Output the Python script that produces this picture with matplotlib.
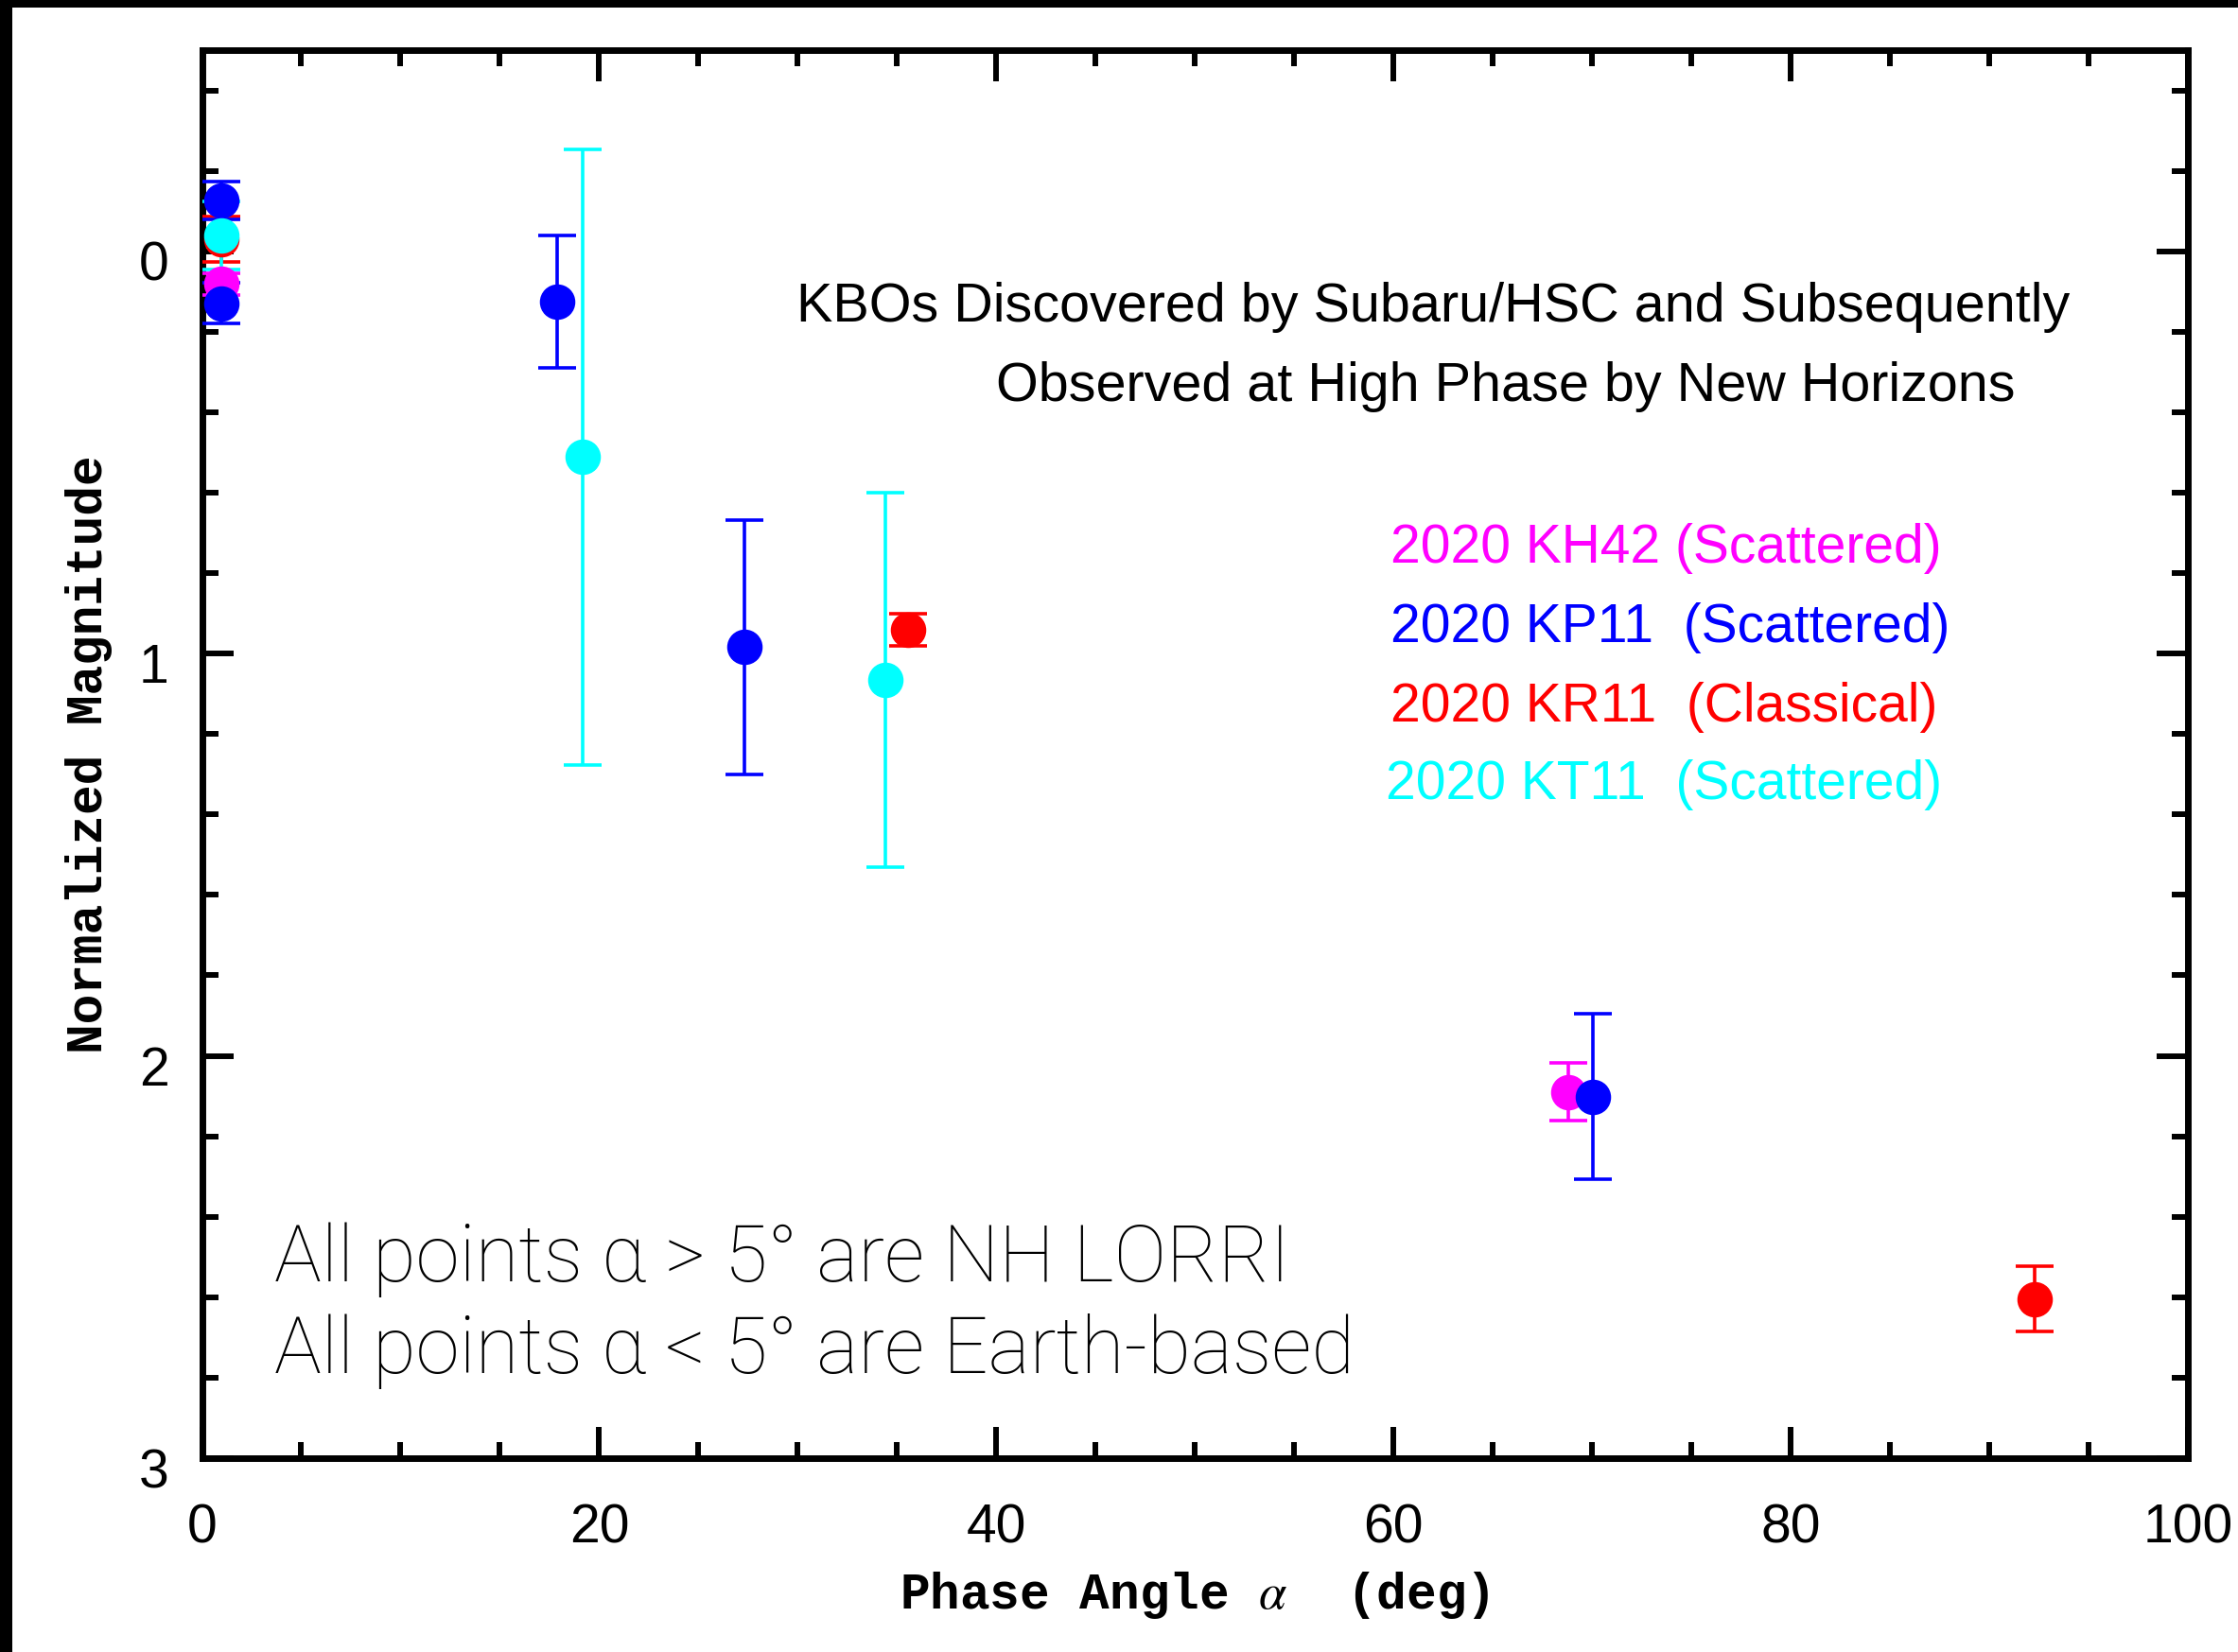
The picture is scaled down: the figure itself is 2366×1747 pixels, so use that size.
import matplotlib
matplotlib.use("Agg")
import matplotlib.pyplot as plt
from matplotlib.patches import Rectangle
from matplotlib.ticker import MultipleLocator
import matplotlib.transforms as mtransforms

# ---------------- data ----------------
kh42_x = [1.0, 68.8]
kh42_y = [0.081, 2.090]
kh42_err = [0.027, 0.072]

kr11_x = [1.0, 35.56, 92.28]
kr11_y = [-0.03, 0.941, 2.604]
kr11_err = [0.057, 0.040, 0.082]

kp11_x = [1.0, 1.0, 17.88, 27.3, 70.03]
kp11_y = [-0.127, 0.129, 0.125, 0.984, 2.101]
kp11_err = [0.047, 0.050, 0.165, 0.316, 0.205]

kt11_x = [1.0, 19.18, 34.4]
kt11_y = [-0.04, 0.511, 1.065]
kt11_err = [0.085, 0.765, 0.465]

series = [
    ("2020 KH42 (Scattered)", "#ff00ff", kh42_x, kh42_y, kh42_err),
    ("2020 KR11  (Classical)", "#ff0000", kr11_x, kr11_y, kr11_err),
    ("2020 KP11  (Scattered)", "#0000ff", kp11_x, kp11_y, kp11_err),
    ("2020 KT11  (Scattered)", "#00ffff", kt11_x, kt11_y, kt11_err),
]
legend_order = [0, 2, 1, 3]

title_lines = ["KBOs Discovered by Subaru/HSC and Subsequently",
               "Observed at High Phase by New Horizons"]
note_lines = ["All points \u03b1 > 5\u00b0 are NH LORRI",
              "All points \u03b1 < 5\u00b0 are Earth-based"]

x_ticks = [0, 20, 40, 60, 80, 100]
y_ticks = [0, 1, 2, 3]

# ---------------- figure ----------------
W, H = 2366, 1747
DPI = 100
plt.rcParams["mathtext.fontset"] = "stix"
fig = plt.figure(figsize=(W / DPI, H / DPI), dpi=DPI, facecolor="white")

def fx(px):
    return px / W

def fy(py):
    return 1 - py / H

ax_l, ax_r, ax_t, ax_b = 213.5, 2313, 53, 1542
ax = fig.add_axes([fx(ax_l), fy(ax_b), fx(ax_r - ax_l), (ax_b - ax_t) / H])

for label, color, xs, ys, es in series:
    ax.errorbar(xs, ys, yerr=es, fmt="o", color=color, ecolor=color,
                markersize=26, markeredgecolor=color, markerfacecolor=color,
                elinewidth=2.6, capsize=14.5, capthick=2.6, zorder=3)

ax.set_xlim(0, 100)
ax.set_ylim(3, -0.5)

ax.set_xticks(x_ticks)
ax.set_yticks(y_ticks)
ax.xaxis.set_minor_locator(MultipleLocator(5))
ax.yaxis.set_minor_locator(MultipleLocator(0.2))

ax.tick_params(which="both", direction="in", top=True, right=True,
               width=4.3, color="black")
ax.tick_params(which="major", length=24)
ax.tick_params(which="minor", length=12)
ax.tick_params(axis="x", which="major", pad=34, labelsize=41)
ax.tick_params(axis="y", which="major", pad=25, labelsize=41)
for lab in ax.get_xticklabels() + ax.get_yticklabels():
    lab.set_fontfamily("Liberation Sans")
off = mtransforms.ScaledTranslation(0, -10 / DPI, fig.dpi_scale_trans)
for lab in ax.get_yticklabels():
    lab.set_transform(lab.get_transform() + off)

for sp in ax.spines.values():
    sp.set_linewidth(5)
    sp.set_color("black")

ax.set_xlabel("Phase Angle $\\alpha$  (deg)", fontfamily="Liberation Mono",
              fontweight="bold", fontsize=38, va="center", ha="center")
ax.xaxis.set_label_coords(0.5, -(1686 - ax_b) / (ax_b - ax_t))
ax.set_ylabel("Normalized Magnitude", fontfamily="Liberation Mono",
              fontweight="bold", fontsize=38, va="center", ha="center")
ax.yaxis.set_label_coords(-(ax_l - 94) / (ax_r - ax_l), 0.5)

# title text
fig.text(fx(842), fy(340), title_lines[0], fontfamily="Liberation Sans",
         fontsize=41.4, ha="left", va="baseline", color="black")
fig.text(fx(1053), fy(424), title_lines[1], fontfamily="Liberation Sans",
         fontsize=41.4, ha="left", va="baseline", color="black")

# coloured labels
leg_base = [595, 679, 763, 845]
leg_x = [1470, 1470, 1470, 1465]
for i, idx in enumerate(legend_order):
    label, color = series[idx][0], series[idx][1]
    fig.text(fx(leg_x[i]), fy(leg_base[i]), label, fontfamily="Liberation Sans",
             fontsize=41, ha="left", va="baseline", color=color)

# notes
for txt, yb in zip(note_lines, [1355, 1452]):
    fig.text(fx(290), fy(yb), txt, fontfamily="Roboto", fontweight="light",
             fontsize=60, ha="left", va="baseline", color="black")

# black border bands
fig.patches.append(Rectangle((0, fy(8)), 1, 1 - fy(8), transform=fig.transFigure,
                             facecolor="black", edgecolor="none", zorder=10))
fig.patches.append(Rectangle((0, 0), fx(13), 1, transform=fig.transFigure,
                             facecolor="black", edgecolor="none", zorder=10))

fig.savefig("out.png", dpi=DPI, facecolor="white")
